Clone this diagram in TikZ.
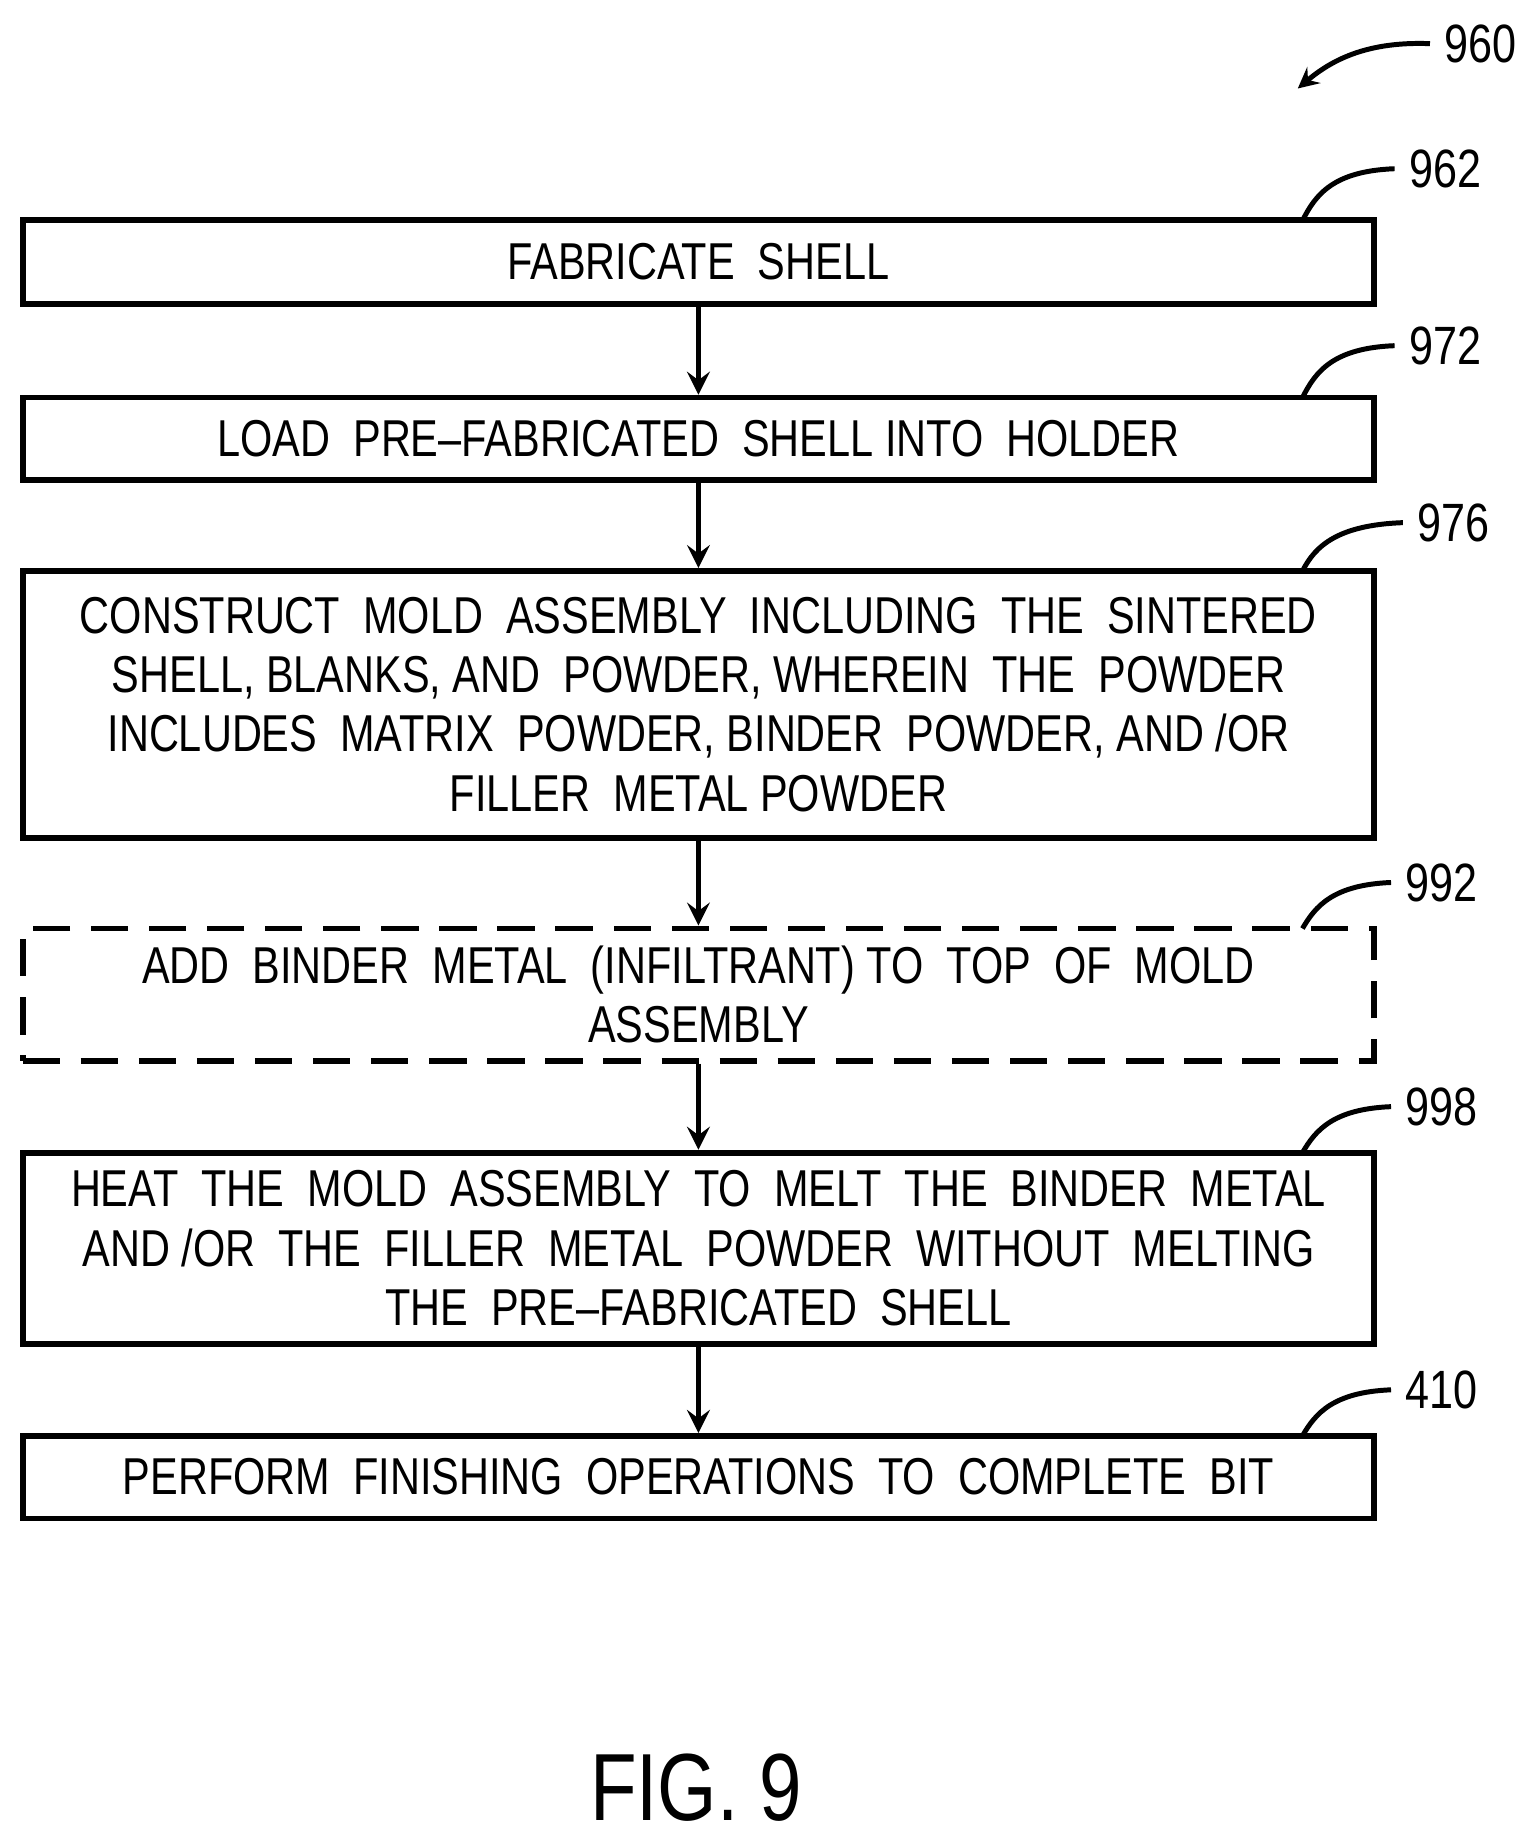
\documentclass[tikz,border=0pt]{standalone}
\usepackage{fontspec}
\setmainfont[FakeStretch=0.8]{Liberation Sans}
\usepackage{tikz}
\usetikzlibrary{positioning}

\begin{document}
\begin{tikzpicture}[x=0.01cm,y=-0.01cm,
  stage/.style={draw, line width=1.4pt, minimum width=11.45cm, inner sep=0pt, align=center, font=\fontsize{12.5pt}{14.3pt}\selectfont},
  flow/.style={->, line width=1.4pt, >=stealth},
  lead/.style={line width=1.2pt},
  ref/.style={font=\fontsize{13pt}{15pt}\selectfont}]
\useasboundingbox (0,0) rectangle (1300,1563);

\node[stage, minimum height=0.71cm] (fab) at (592,222) {FABRICATE\ \ SHELL};
\node[stage, minimum height=0.70cm] (load) at (592,372) {LOAD\ \ PRE--FABRICATED\ \ SHELL\ INTO\ \ HOLDER};
\node[stage, minimum height=2.26cm] (mold) at (592,597) {CONSTRUCT\ \ MOLD\ \ ASSEMBLY\ \ INCLUDING\ \ THE\ \ SINTERED\\SHELL, BLANKS, AND\ \ POWDER, WHEREIN\ \ THE\ \ POWDER\\INCLUDES\ \ MATRIX\ \ POWDER, BINDER\ \ POWDER, AND\ /OR\\FILLER\ \ METAL\ POWDER};
\node[stage, dash pattern=on 9pt off 5pt, minimum height=1.12cm] (binder) at (592,843) {ADD\ \ BINDER\ \ METAL\ \ (INFILTRANT) TO\ \ TOP\ \ OF\ \ MOLD\\ASSEMBLY};
\node[stage, minimum height=1.62cm] (heat) at (592,1058) {HEAT\ \ THE\ \ MOLD\ \ ASSEMBLY\ \ TO\ \ MELT\ \ THE\ \ BINDER\ \ METAL\\AND\ /OR\ \ THE\ \ FILLER\ \ METAL\ \ POWDER\ \ WITHOUT\ \ MELTING\\THE\ \ PRE--FABRICATED\ \ SHELL};
\node[stage, minimum height=0.70cm] (finish) at (592,1252) {PERFORM\ \ FINISHING\ \ OPERATIONS\ \ TO\ \ COMPLETE\ \ BIT};

\draw[flow] (fab) -- (load);
\draw[flow] (load) -- (mold);
\draw[flow] (mold) -- (binder);
\draw[flow] (binder) -- (heat);
\draw[flow] (heat) -- (finish);

% reference numerals
\node[ref] (r960) at (1255,37) {960};
\coordinate (a960) at (1100,75);
\draw[lead, ->, >=stealth] (r960.west) .. controls (1160,35) and (1130,50) .. (a960);
\node[ref] (r962) at (1225,143) {962};
\coordinate (t962) at (1104,187);
\draw[lead] (r962.west) .. controls (1130,145) and (1115,165) .. (t962);
\node[ref] (r972) at (1225,293) {972};
\coordinate (t972) at (1104,337);
\draw[lead] (r972.west) .. controls (1130,295) and (1115,315) .. (t972);
\node[ref] (r976) at (1232,443) {976};
\coordinate (t976) at (1104,484);
\draw[lead] (r976.west) .. controls (1135,445) and (1115,462) .. (t976);
\node[ref] (r992) at (1222,748) {992};
\coordinate (t992) at (1104,787);
\draw[lead] (r992.west) .. controls (1130,750) and (1115,768) .. (t992);
\node[ref] (r998) at (1222,938) {998};
\coordinate (t998) at (1104,977);
\draw[lead] (r998.west) .. controls (1130,940) and (1115,958) .. (t998);
\node[ref] (r410) at (1222,1178) {410};
\coordinate (t410) at (1104,1217);
\draw[lead] (r410.west) .. controls (1130,1180) and (1115,1198) .. (t410);

\node[font=\fontsize{23pt}{25pt}\selectfont] (fig) at (590,1515) {FIG. 9};
\end{tikzpicture}
\end{document}
